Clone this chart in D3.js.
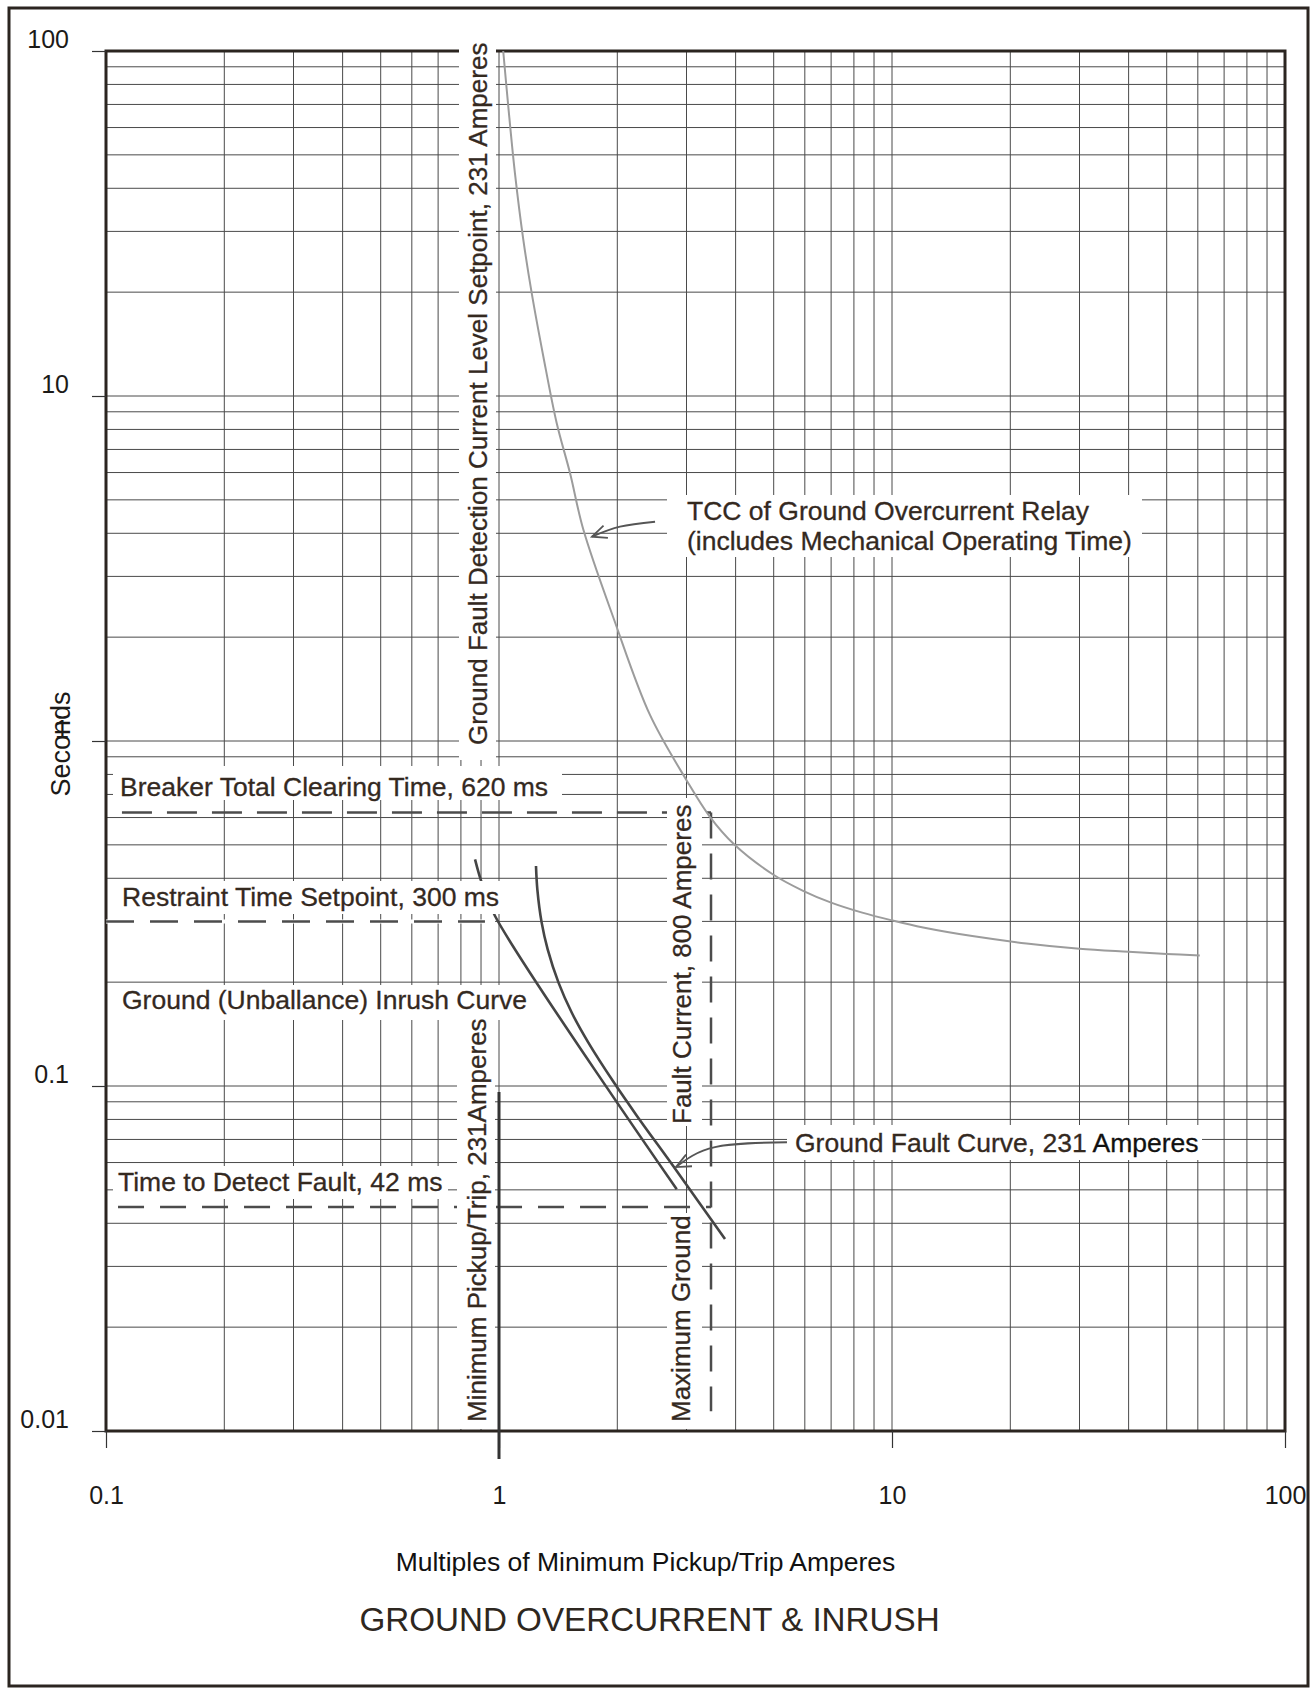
<!DOCTYPE html>
<html><head><meta charset="utf-8">
<script src="https://cdn.jsdelivr.net/npm/d3@7"></script>
<style>
html,body{margin:0;padding:0;background:#fff;}
svg{display:block;}
text{font-family:"Liberation Sans",Arial,sans-serif;}
</style></head><body>
<svg id="chart" width="1316" height="1690"></svg>
<script>
// ---------------- data ----------------
const xTickValues = [0.1, 1, 10, 100];
const xTickLabels = ["0.1", "1", "10", "100"];
const yTickValues = [0.01, 0.1, 1, 10, 100];
const yTickLabels = ["0.01", "0.1", "1", "10", "100"];

// TCC of ground overcurrent relay (multiples, seconds)
const tccMultiple = [1.025, 1.056, 1.098, 1.153, 1.211, 1.297, 1.402, 1.516, 1.639, 1.962, 2.422, 3.0, 3.43, 3.97, 4.97, 5.94, 7.0, 8.4, 10, 12, 16, 22, 30, 40, 50, 60.7];
const tccSeconds  = [100, 69.0, 44.2, 28.4, 19.9, 13.0, 8.35, 5.98, 4.10, 2.25, 1.19, 0.77, 0.606, 0.501, 0.411, 0.368, 0.340, 0.318, 0.302, 0.288, 0.272, 0.259, 0.250, 0.245, 0.2415, 0.239];

// Ground (unbalance) inrush curve
const inrushMultiple = [0.869, 0.904, 0.977, 2.833];
const inrushSeconds  = [0.454, 0.388, 0.311, 0.0502];

// Ground fault curve, 231 A
const gfMultiple = [1.242, 1.252, 1.284, 1.330, 1.418, 1.532, 1.688, 1.961, 2.244, 2.772, 3.759];
const gfSeconds  = [0.434, 0.371, 0.2975, 0.249, 0.199, 0.163, 0.1336, 0.1023, 0.0819, 0.0587, 0.0360];

// reference lines
const breakerClearing = 0.62;   // 620 ms
const restraintTime   = 0.30;   // 300 ms
const detectTime      = 0.0446; // drawn position of "42 ms" line
const faultMultiple   = 3.463;  // 800 A / 231 A
const pickupMultiple  = 1;      // 231 A
const breakerLineFrom = 0.1098;
const restraintLineTo = 0.921;
const detectLineFrom  = 0.1073;
const faultLineBottom = 0.0114;
const pickupLineTop   = 0.096;
const pickupLineBottom= 0.0083;

// annotation arrows (multiple, seconds)
const tccArrowM = [2.495, 2.032, 1.724];
const tccArrowT = [4.32, 4.18, 3.91];
const gfArrowM  = [5.405, 3.545, 2.821];
const gfArrowT  = [0.0687, 0.0665, 0.0582];

// ---------------- layout ----------------
const P = {left: 106, right: 1285, top: 51, bottom: 1431};
const brown = "#34291f", ink = "#1c1a18", grid = "#4a4a4a";
const FS = 26.5;

const svg = d3.select("#chart");
const x = d3.scaleLog().domain([0.1, 100]).range([P.left, P.right]);
const y = d3.scaleLog().domain([0.01, 100]).range([P.bottom, P.top]);

// outer frame
svg.append("rect").attr("x", 9).attr("y", 8).attr("width", 1299).attr("height", 1678)
  .attr("fill", "none").attr("stroke", "#2b2520").attr("stroke-width", 3);

// grid
const gx = [], gy = [];
[0.1, 1, 10].forEach(d => { for (let k = 1; k <= 9; k++) if (!(k === 1 && d === 0.1)) gx.push(k * d); });
[0.01, 0.1, 1, 10].forEach(d => { for (let k = 1; k <= 9; k++) if (!(k === 1 && d === 0.01)) gy.push(k * d); });
const gridG = svg.append("g").attr("stroke", grid).attr("stroke-width", 1);
gridG.selectAll("line.v").data(gx).join("line").attr("class", "v")
  .attr("x1", d => x(d)).attr("x2", d => x(d)).attr("y1", P.top).attr("y2", P.bottom);
gridG.selectAll("line.h").data(gy).join("line").attr("class", "h")
  .attr("x1", P.left).attr("x2", P.right).attr("y1", d => y(d)).attr("y2", d => y(d));

// plot border
svg.append("rect").attr("x", P.left).attr("y", P.top)
  .attr("width", P.right - P.left).attr("height", P.bottom - P.top)
  .attr("fill", "none").attr("stroke", "#2b2520").attr("stroke-width", 3);

// axes
const yAxis = d3.axisLeft(y).tickValues(yTickValues)
  .tickFormat((d, i) => yTickLabels[i]).tickSize(14).tickPadding(23);
const yg = svg.append("g").attr("transform", `translate(${P.left},0)`).call(yAxis);
yg.select(".domain").remove();
yg.selectAll(".tick line").attr("stroke", "#333").attr("stroke-width", 1.2);
yg.selectAll(".tick text").attr("font-size", 25).attr("fill", ink)
  .attr("font-family", "Liberation Sans, Arial, sans-serif").attr("dy", 0).attr("y", -3.5);

const xAxis = d3.axisBottom(x).tickValues(xTickValues)
  .tickFormat((d, i) => xTickLabels[i]).tickSize(17).tickPadding(0);
const xg = svg.append("g").attr("transform", `translate(0,${P.bottom})`).call(xAxis);
xg.select(".domain").remove();
xg.selectAll(".tick line").attr("stroke", "#333").attr("stroke-width", 1.2);
xg.selectAll(".tick text").attr("font-size", 25).attr("fill", ink)
  .attr("font-family", "Liberation Sans, Arial, sans-serif").attr("dy", 0).attr("y", 73);

// dashed reference lines
const dashC = "#4c4c4c";
svg.append("line").attr("x1", x(0.1)).attr("x2", x(0.977))
  .attr("y1", y(restraintTime)).attr("y2", y(restraintTime))
  .attr("stroke", "#fff").attr("stroke-width", 4);
const dashes = [
  {x1: breakerLineFrom, x2: faultMultiple, y1: breakerClearing, y2: breakerClearing, da: "30,15"},
  {x1: 0.1, x2: restraintLineTo, y1: restraintTime, y2: restraintTime, da: "28,16"},
  {x1: detectLineFrom, x2: faultMultiple, y1: detectTime, y2: detectTime, da: "26,16"},
  {x1: faultMultiple, x2: faultMultiple, y1: breakerClearing, y2: faultLineBottom, da: "26,15"}
];
svg.selectAll("line.dash").data(dashes).join("line").attr("class", "dash")
  .attr("x1", d => x(d.x1)).attr("x2", d => x(d.x2))
  .attr("y1", d => y(d.y1)).attr("y2", d => y(d.y2))
  .attr("stroke", dashC).attr("stroke-width", 2.5).attr("stroke-dasharray", d => d.da);

const line = d3.line().x(d => x(d[0])).y(d => y(d[1])).curve(d3.curveCatmullRom.alpha(0.5));

// inrush curve (under label boxes)
svg.append("path").datum(d3.zip(inrushMultiple, inrushSeconds)).attr("d", line)
  .attr("fill", "none").attr("stroke", "#454545").attr("stroke-width", 2.6);

// white label boxes
const boxes = [
  [459, 28, 496, 760], [667, 798, 702, 1126], [667, 1213, 702, 1429], [457, 1005, 495, 1429],
  [113, 766, 562, 800], [116, 881, 504, 914], [116, 985, 532, 1020], [113, 1166, 448, 1199],
  [667, 495, 1142, 557], [787, 1125, 1202, 1160]
];
svg.selectAll("rect.box").data(boxes).join("rect").attr("class", "box")
  .attr("x", d => d[0]).attr("y", d => d[1]).attr("width", d => d[2] - d[0]).attr("height", d => d[3] - d[1])
  .attr("fill", "#fff");

// TCC and ground fault curves
svg.append("path").datum(d3.zip(tccMultiple, tccSeconds)).attr("d", line)
  .attr("fill", "none").attr("stroke", "#9c9c9c").attr("stroke-width", 2);
svg.append("path").datum(d3.zip(gfMultiple, gfSeconds)).attr("d", line)
  .attr("fill", "none").attr("stroke", "#454545").attr("stroke-width", 2.6);

// minimum pickup solid line
svg.append("line").attr("x1", x(pickupMultiple)).attr("x2", x(pickupMultiple))
  .attr("y1", y(pickupLineTop)).attr("y2", y(pickupLineBottom))
  .attr("stroke", "#333").attr("stroke-width", 3);

// arrows
function arrow(ms, ts, color) {
  const pts = ms.map((m, i) => [x(m), y(ts[i])]);
  svg.append("path").attr("d", d3.line().curve(d3.curveNatural)(pts))
    .attr("fill", "none").attr("stroke", color).attr("stroke-width", 1.8);
  const [a, b] = [pts[pts.length - 2], pts[pts.length - 1]];
  const ang = Math.atan2(b[1] - a[1], b[0] - a[0]);
  const L = 16, s = 0.42;
  const p1 = [b[0] - L * Math.cos(ang - s), b[1] - L * Math.sin(ang - s)];
  const p2 = [b[0] - L * Math.cos(ang + s), b[1] - L * Math.sin(ang + s)];
  svg.append("path").attr("d", `M${p1}L${b}L${p2}`)
    .attr("fill", "none").attr("stroke", color).attr("stroke-width", 1.8);
}
arrow(tccArrowM, tccArrowT, "#555");
arrow(gfArrowM, gfArrowT, "#555");

// horizontal labels
const hLabels = [
  {t: "Breaker Total Clearing Time, 620 ms", x: 120, y: 796},
  {t: "Restraint Time Setpoint, 300 ms", x: 122, y: 906},
  {t: "Ground (Unballance) Inrush Curve", x: 122, y: 1009},
  {t: "Time to Detect Fault, 42 ms", x: 118, y: 1191},
  {t: "TCC of Ground Overcurrent Relay", x: 687, y: 520},
  {t: "(includes Mechanical Operating Time)", x: 687, y: 550}
];
svg.selectAll("text.hl").data(hLabels).join("text").attr("class", "hl")
  .attr("x", d => d.x).attr("y", d => d.y).attr("font-size", FS)
  .attr("fill", brown).attr("stroke", brown).attr("stroke-width", 0.3).text(d => d.t);

const gfl = svg.append("text").attr("x", 795).attr("y", 1152).attr("font-size", FS)
  .attr("fill", brown).attr("stroke", brown).attr("stroke-width", 0.3);
gfl.append("tspan").text("Ground Fault Curve, 231 ");
gfl.append("tspan").attr("fill", "#111").attr("stroke", "#111").text("Amperes");

// vertical labels
const vLabels = [
  {t: "Ground Fault Detection Current Level Setpoint, 231 Amperes", x: 487, y: 745},
  {t: "Minimum Pickup/Trip, 231Amperes", x: 486, y: 1422},
  {t: "Maximum Ground", x: 690, y: 1422},
  {t: "Fault Current, 800 Amperes", x: 691, y: 1124}
];
svg.selectAll("text.vl").data(vLabels).join("text").attr("class", "vl")
  .attr("transform", d => `translate(${d.x},${d.y}) rotate(-90)`)
  .attr("font-size", 26).attr("fill", brown).attr("stroke", brown).attr("stroke-width", 0.3).text(d => d.t);

// axis titles
svg.append("text").attr("transform", "translate(69.5,744) rotate(-90)")
  .attr("text-anchor", "middle").attr("font-size", 27).attr("fill", ink).text("Seconds");
svg.append("text").attr("x", 645.5).attr("y", 1571).attr("text-anchor", "middle")
  .attr("font-size", FS).attr("fill", "#111").text("Multiples of Minimum Pickup/Trip Amperes");
svg.append("text").attr("x", 649.5).attr("y", 1631).attr("text-anchor", "middle")
  .attr("font-size", 33.2).attr("fill", "#2e2720").text("GROUND OVERCURRENT & INRUSH");
</script>
</body></html>
